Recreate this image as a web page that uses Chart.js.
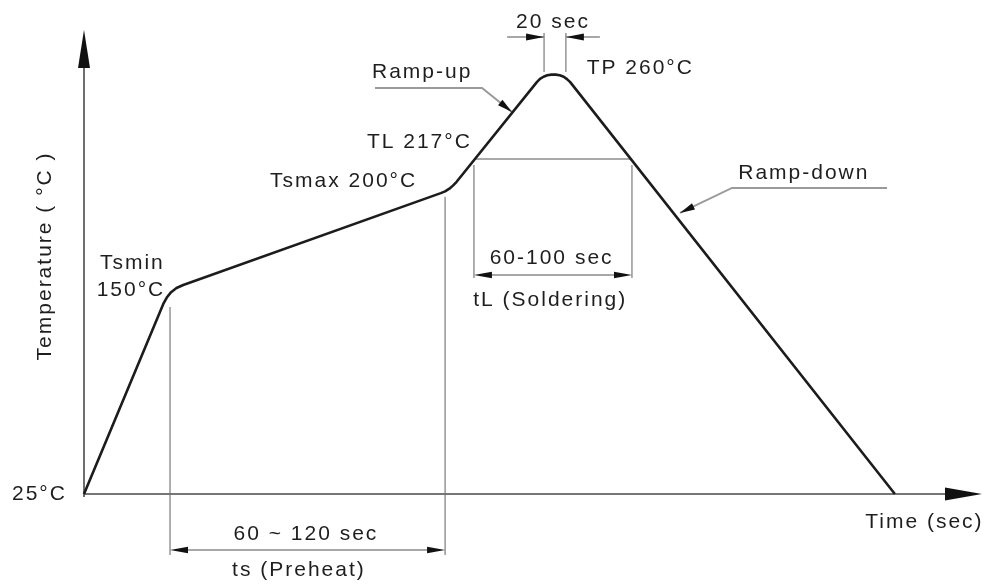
<!DOCTYPE html>
<html><head><meta charset="utf-8">
<script src="https://cdn.jsdelivr.net/npm/chart.js@4"></script>
<style>html,body{margin:0;padding:0;background:#fff}#wrap{width:990px;height:586px}</style>
</head><body><div id="wrap"><canvas id="c" width="990" height="586"></canvas></div>
<script>
// ---- data (schematic reflow profile) ----
const timeSec = [0, 29.4, 30.7, 32.3, 34.3, 36.8, 132.3, 133.9, 135.5, 136.8, 138.1, 168.0, 169.1, 170.4, 171.8, 173.4, 174.9, 176.4, 177.9, 179.1, 180.3, 300.7];
const tempC   = [25, 131.5, 135.1, 138.1, 140.4, 142.1, 193.6, 194.6, 196.1, 197.8, 199.8, 255.9, 257.6, 258.8, 259.6, 260, 260, 259.6, 258.8, 257.5, 255.8, 25];
const yTickValues = [25];
const yTickLabels = ['25°C'];
const xTitle = 'Time (sec)';
const yTitle = 'Temperature ( °C )';
const pointLabels = ['Tsmin', '150°C', 'Tsmax 200°C', 'TL 217°C', 'TP 260°C'];
const rangeLabels = ['60 ~ 120 sec', 'ts (Preheat)', '60-100 sec', 'tL (Soldering)', '20 sec'];
const slopeLabels = ['Ramp-up', 'Ramp-down'];

// ---- annotation placement (in data units: [time, temperature]) ----
const textPlace = [
  {s: pointLabels[0], p: [5.9, 154.4], a: 'left'},
  {s: pointLabels[1], p: [4.7, 139.3], a: 'left'},
  {s: pointLabels[2], p: [69.0, 200.0], a: 'left'},
  {s: pointLabels[3], p: [104.9, 222.2], a: 'left'},
  {s: pointLabels[4], p: [186.4, 263.5], a: 'left'},
  {s: rangeLabels[0], p: [82.3, 2.6], a: 'center'},
  {s: rangeLabels[1], p: [79.7, -17.6], a: 'center'},
  {s: rangeLabels[2], p: [173.4, 157.2], a: 'center'},
  {s: rangeLabels[3], p: [172.9, 133.7], a: 'center'},
  {s: rangeLabels[4], p: [173.9, 289.5], a: 'center'},
  {s: slopeLabels[0], p: [106.8, 261.5], a: 'left'},
  {s: slopeLabels[1], p: [242.6, 204.7], a: 'left'},
  {s: xTitle, p: [333.6, 9.3], a: 'right'}
];
const vGuides = [[31.9, 129.8, -9.2], [133.9, 191.5, -9.2], [144.6, 209.4, 146.0], [203.2, 209.4, 146.0], [170.6, 283.3, 261.5], [178.7, 283.3, 261.5]];
const hGuides = [[144.6, 203.2, 212.7]];
const dimArrows = [
  {from: 31.9, to: 133.9, T: -6.4},
  {from: 144.6, to: 203.2, T: 147.7}
];
const singleArrows = [[156.9, 170.6, 281.1], [191.3, 178.7, 281.1]];
const leaders = [
  [[107.9, 252.5], [147.6, 252.5], [158.7, 239.1]],
  [[297.8, 196.5], [240.3, 196.5], [221.0, 182.5]]
];

const FONT = '21px "Liberation Sans", Arial, sans-serif';
const TEXT = '#1e1e1e';

function head(ctx, x1, y1, x2, y2, len, hw) {
  const a = Math.atan2(y2 - y1, x2 - x1);
  ctx.beginPath();
  ctx.moveTo(x2, y2);
  ctx.lineTo(x2 - len * Math.cos(a) + hw * Math.sin(a), y2 - len * Math.sin(a) - hw * Math.cos(a));
  ctx.lineTo(x2 - len * Math.cos(a) - hw * Math.sin(a), y2 - len * Math.sin(a) + hw * Math.cos(a));
  ctx.closePath();
  ctx.fill();
}

const diagram = {
  id: 'diagram',
  beforeDatasetsDraw(chart) {
    const ctx = chart.ctx, X = v => chart.scales.x.getPixelForValue(v), Y = v => chart.scales.y.getPixelForValue(v);
    const ca = chart.chartArea;
    ctx.save();
    // axes
    ctx.strokeStyle = '#4a4a4a'; ctx.fillStyle = '#111'; ctx.lineWidth = 1.6;
    const y0 = Y(yTickValues[0]);
    ctx.beginPath(); ctx.moveTo(X(0), y0 + 3); ctx.lineTo(X(0), ca.top + 20); ctx.stroke();
    head(ctx, X(0), ca.top + 40, X(0), ca.top, 38, 6);
    ctx.beginPath(); ctx.moveTo(X(0), y0); ctx.lineTo(ca.right - 20, y0); ctx.stroke();
    head(ctx, ca.right - 40, y0, ca.right, y0, 37, 6.5);
    // guides
    ctx.strokeStyle = '#6f6f6f'; ctx.lineWidth = 1.1;
    vGuides.forEach(g => { ctx.beginPath(); ctx.moveTo(X(g[0]), Y(g[1])); ctx.lineTo(X(g[0]), Y(g[2])); ctx.stroke(); });
    ctx.strokeStyle = '#555';
    hGuides.forEach(g => { ctx.beginPath(); ctx.moveTo(X(g[0]), Y(g[2])); ctx.lineTo(X(g[1]), Y(g[2])); ctx.stroke(); });
    ctx.strokeStyle = '#8a8a8a'; ctx.fillStyle = '#111'; ctx.lineWidth = 1.5;
    dimArrows.forEach(d => {
      const xa = X(d.from), xb = X(d.to), y = Y(d.T);
      ctx.beginPath(); ctx.moveTo(xa + 10, y); ctx.lineTo(xb - 10, y); ctx.stroke();
      head(ctx, xa + 20, y, xa, y, 18, 3.2);
      head(ctx, xb - 20, y, xb, y, 18, 3.2);
    });
    singleArrows.forEach(s => {
      const xa = X(s[0]), xb = X(s[1]), y = Y(s[2]);
      ctx.beginPath(); ctx.moveTo(xa, y); ctx.lineTo(xb, y); ctx.stroke();
      head(ctx, xa, y, xb, y, 18, 3.5);
    });
    // leaders
    ctx.strokeStyle = '#9a9a9a'; ctx.lineWidth = 2;
    leaders.forEach(L => {
      ctx.beginPath();
      L.forEach((p, i) => { const x = X(p[0]), y = Y(p[1]); i ? ctx.lineTo(x, y) : ctx.moveTo(x, y); });
      ctx.stroke();
      const n = L.length;
      head(ctx, X(L[n - 2][0]), Y(L[n - 2][1]), X(L[n - 1][0]), Y(L[n - 1][1]), 15, 3.5);
    });
    ctx.restore();
  },
  afterDraw(chart) {
    const ctx = chart.ctx, X = v => chart.scales.x.getPixelForValue(v), Y = v => chart.scales.y.getPixelForValue(v);
    ctx.save();
    ctx.font = FONT; ctx.fillStyle = TEXT; ctx.textBaseline = 'middle';
    if ('letterSpacing' in ctx) ctx.letterSpacing = '2px';
    textPlace.forEach(t => { ctx.textAlign = t.a; ctx.fillText(t.s, X(t.p[0]), Y(t.p[1])); });
    ctx.textAlign = 'left';
    yTickValues.forEach((v, i) => ctx.fillText(yTickLabels[i], X(-26.7), Y(v)));
    ctx.translate(X(-14.5), Y(158.4));
    ctx.rotate(-Math.PI / 2);
    ctx.textAlign = 'center';
    ctx.fillText(yTitle, 0, 0);
    ctx.restore();
  }
};

new Chart(document.getElementById('c'), {
  type: 'line',
  data: {
    datasets: [{
      data: timeSec.map((t, i) => ({x: t, y: tempC[i]})),
      borderColor: '#1c1c1c', borderWidth: 2.6, pointRadius: 0, tension: 0, fill: false, clip: false,
      borderJoinStyle: 'round'
    }]
  },
  options: {
    responsive: false, animation: false,
    layout: {padding: {left: 84, right: 8, top: 30, bottom: 92}},
    plugins: {legend: {display: false}, tooltip: {enabled: false}},
    scales: {
      x: {type: 'linear', min: 0, max: 333, display: false},
      y: {type: 'linear', min: 25, max: 285, display: false}
    }
  },
  plugins: [diagram]
});
</script>
</body></html>
